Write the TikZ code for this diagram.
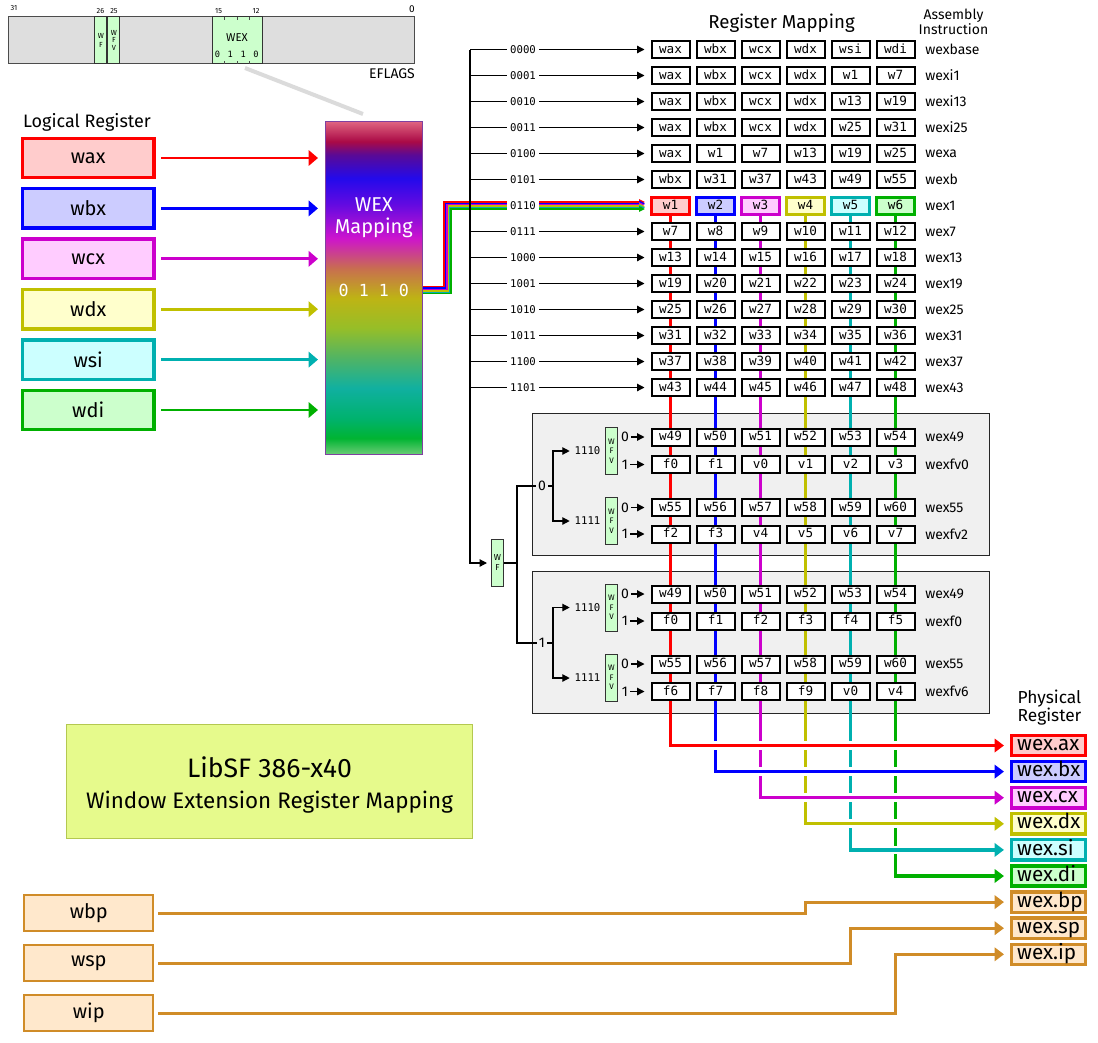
\documentclass[tikz,border=0pt]{standalone}
\usepackage{fontspec}
\setmainfont{Fira Sans}
\newfontfamily\monof{DejaVu Sans Mono}
\usetikzlibrary{arrows.meta,calc}
\pgfdeclarelayer{bg}
\pgfdeclarelayer{lines}
\pgfsetlayers{bg,lines,main}

\definecolor{cR}{RGB}{255,0,0}\definecolor{fR}{RGB}{255,204,204}
\definecolor{cB}{RGB}{0,0,255}\definecolor{fB}{RGB}{204,204,255}
\definecolor{cM}{RGB}{204,0,204}\definecolor{fM}{RGB}{255,204,255}
\definecolor{cY}{RGB}{192,192,0}\definecolor{fY}{RGB}{255,255,204}
\definecolor{cT}{RGB}{0,176,176}\definecolor{fT}{RGB}{204,255,255}
\definecolor{cG}{RGB}{0,176,0}\definecolor{fG}{RGB}{204,255,204}
\definecolor{cO}{RGB}{208,140,40}\definecolor{fO}{RGB}{255,232,204}
\definecolor{panelfill}{RGB}{240,240,240}
\definecolor{titlefill}{RGB}{230,250,140}
\definecolor{titledraw}{RGB}{180,200,80}
\definecolor{mapdraw}{RGB}{128,64,160}
\definecolor{g00}{RGB}{110,205,120}
\definecolor{g01}{RGB}{0,180,50}
\definecolor{g02}{RGB}{0,178,110}
\definecolor{g03}{RGB}{16,176,160}
\definecolor{g04}{RGB}{80,180,100}
\definecolor{g05}{RGB}{150,190,40}
\definecolor{g06}{RGB}{190,180,20}
\definecolor{g07}{RGB}{200,110,80}
\definecolor{g08}{RGB}{205,20,205}
\definecolor{g09}{RGB}{100,10,225}
\definecolor{g10}{RGB}{35,10,235}
\definecolor{g11}{RGB}{90,10,150}
\definecolor{g12}{RGB}{170,10,70}
\definecolor{g13}{RGB}{224,100,128}
\pgfdeclareverticalshading{wexgrad}{100bp}{color(0bp)=(g00); color(25bp)=(g00); color(27.5bp)=(g01); color(30.5bp)=(g02); color(35bp)=(g03); color(39.5bp)=(g04); color(44bp)=(g05); color(48.5bp)=(g06); color(53bp)=(g07); color(57.5bp)=(g08); color(62.5bp)=(g09); color(66.5bp)=(g10); color(70bp)=(g11); color(72bp)=(g12); color(75bp)=(g13); color(100bp)=(g13)}

\tikzset{
 cell/.style={draw=black, line width=1.5pt, fill=white, minimum width=28.5pt, minimum height=12.75pt, inner sep=0pt, text height=7pt, text depth=1.5pt, font=\monof\fontsize{9.5}{10}\selectfont},
 hcell/.style 2 args={cell, draw=#1, fill=#2, line width=2.25pt},
 rowlab/.style={fill=white, inner sep=2.5pt, font=\monof\fontsize{8}{9}\selectfont},
 asm/.style={anchor=west, inner sep=0pt, font=\fontsize{10.5}{12}\selectfont},
 tri/.style={-{Triangle[length=5.5pt,width=5.5pt]}},
 blk/.style={line width=0.9pt, black},
 lreg/.style 2 args={draw=#1, fill=#2, line width=2.5pt, minimum width=98.8pt, minimum height=29.5pt, inner sep=0pt, font=\fontsize{15}{18}\selectfont},
 oreg/.style={draw=cO, fill=fO, line width=1.5pt, minimum width=96.75pt, minimum height=27pt, inner sep=0pt, font=\fontsize{15}{18}\selectfont},
 preg/.style 2 args={draw=#1, fill=#2, line width=2.5pt, text width=47pt, align=left, inner xsep=4.15pt, inner ysep=0pt, minimum height=15.2pt, text height=11pt, text depth=3.3pt, font=\fontsize{15.5}{16}\selectfont},
 flagbox/.style={draw=black!80, fill=fG, line width=0.75pt, minimum width=9pt, inner sep=0pt, align=center},
 bigarrow/.style={line width=2.5pt, -{Triangle[length=7pt,width=10pt]}},
 lbl/.style={inner sep=0pt},
}

\begin{document}
\begin{tikzpicture}[x=0.75pt,y=-0.75pt]
\useasboundingbox (0,0) rectangle (1098,1042);

% ---------------- EFLAGS ----------------
\node[draw=black!70, fill=black!13, line width=0.75pt, minimum width=305pt, minimum height=35pt, inner sep=0pt] (eflags) at (211.5,40.3) {};
\node[flagbox, minimum height=35pt, font=\fontsize{5.5}{6.5}\selectfont] (ewf) at (100.8,40.3) {W\\F};
\node[flagbox, minimum height=35pt, font=\fontsize{5.5}{5.8}\selectfont] (ewfv) at (113.8,40.3) {W\\F\\V};
\node[flagbox, minimum width=37.5pt, minimum height=35pt] (ewex) at (237,40.3) {};
\node[lbl, font=\fontsize{8.5}{9}\selectfont] (ewext) at (237,37.5) {WEX};
\foreach \bb/\xx [count=\ci] in {0/217.5,1/230.3,1/243.2,0/256}
  \node[lbl, font=\monof\fontsize{6.5}{7}\selectfont] (ebit\ci) at (\xx,54) {\bb};
\foreach \xx in {224.4,237,249.7} {
  \draw[black!70, line width=0.5pt] (\xx,16.9) -- (\xx,19.8);
  \draw[black!70, line width=0.5pt] (\xx,61) -- (\xx,63.9);
}
\node[lbl, font=\fontsize{5.5}{6}\selectfont] (n31) at (14,8.5) {31};
\node[lbl, font=\fontsize{5.5}{6}\selectfont] (n26) at (100.5,10.8) {26};
\node[lbl, font=\fontsize{5.5}{6}\selectfont] (n25) at (114,10.8) {25};
\node[lbl, font=\fontsize{5.5}{6}\selectfont] (n15) at (218.5,10.8) {15};
\node[lbl, font=\fontsize{5.5}{6}\selectfont] (n12) at (256,10.8) {12};
\node[lbl, font=\fontsize{7.5}{8}\selectfont] (n0) at (412,9.5) {0};
\node[lbl, font=\fontsize{10.5}{12}\selectfont] (eflagslab) at (392,74) {EFLAGS};
\coordinate (gc1) at (245,68);
\coordinate (gc2) at (363,114);
\draw[black!14, line width=3pt] (gc1) -- (gc2);

% ---------------- Logical registers ----------------
\node[lbl, font=\fontsize{13.5}{15}\selectfont] (loghead) at (87,122) {Logical Register};
\foreach \nm/\cc/\cf [count=\ci from 0] in {wax/cR/fR, wbx/cB/fB, wcx/cM/fM, wdx/cY/fY, wsi/cT/fT, wdi/cG/fG}
  \node[lreg={\cc}{\cf}] (L\ci) at (88.2,{158+50.4*\ci}) {\nm};

% ---------------- WEX mapping ----------------
\node[draw=mapdraw, line width=0.75pt, shade, shading=wexgrad, minimum width=72.5pt, minimum height=250pt, inner sep=0pt] (wexmap) at (373.8,288.2) {};
\node[white, align=center, font=\fontsize{15}{16.5}\selectfont] (wexmaptxt) at (373.8,217.5) {WEX\\Mapping};
\node[white, font=\monof\fontsize{12.5}{13}\selectfont] (wexbits) at (373.8,290) {0 1 1 0};

\foreach \cc [count=\ci from 0] in {cR,cB,cM,cY,cT,cG}
  \draw[\cc, line width=2pt, -{Triangle[length=7pt,width=11.5pt]}, shorten <=4.2pt, shorten >=5.25pt] (L\ci.east) -- (L\ci.east -| wexmap.west);

% ---------------- headers ----------------
\node[lbl, font=\fontsize{14}{16}\selectfont] (rmhead) at (781.5,23.5) {Register Mapping};
\node[lbl, align=center, font=\fontsize{10.5}{9}\selectfont] (asmhead) at (953.5,21.5) {Assembly\\Instruction};

% ---------------- main rows ----------------
\foreach \rk/\lab/\va/\vb/\vc/\vd/\ve/\vf/\asmname in {
0/0000/wax/wbx/wcx/wdx/wsi/wdi/wexbase,
1/0001/wax/wbx/wcx/wdx/w1/w7/wexi1,
2/0010/wax/wbx/wcx/wdx/w13/w19/wexi13,
3/0011/wax/wbx/wcx/wdx/w25/w31/wexi25,
4/0100/wax/w1/w7/w13/w19/w25/wexa,
5/0101/wbx/w31/w37/w43/w49/w55/wexb,
7/0111/w7/w8/w9/w10/w11/w12/wex7,
8/1000/w13/w14/w15/w16/w17/w18/wex13,
9/1001/w19/w20/w21/w22/w23/w24/wex19,
10/1010/w25/w26/w27/w28/w29/w30/wex25,
11/1011/w31/w32/w33/w34/w35/w36/wex31,
12/1100/w37/w38/w39/w40/w41/w42/wex37,
13/1101/w43/w44/w45/w46/w47/w48/wex43}{
  \pgfmathsetmacro\yy{49.5+26*\rk}
  \foreach \cv [count=\cj] in {\va,\vb,\vc,\vd,\ve,\vf}
    \node[cell] (r\rk-\cj) at ({625.5+45*\cj},\yy) {\cv};
  \node[rowlab] (l\rk) at (523,\yy) {\lab};
  \node[asm] (a\rk) at (925,\yy) {\asmname};
}
\foreach \cv/\cc/\cf [count=\cj] in {w1/cR/fR, w2/cB/fB, w3/cM/fM, w4/cY/fY, w5/cT/fT, w6/cG/fG}
  \node[hcell={\cc}{\cf}] (h\cj) at ({625.5+45*\cj},205.5) {\cv};
\node[rowlab] (l6) at (523,205.5) {0110};
\node[asm] (a6) at (925,205.5) {wex1};

% ---------------- panels ----------------
\begin{pgfonlayer}{bg}
  \draw[black!85, line width=0.75pt, fill=panelfill] (532.3,413.3) rectangle (989.3,555);
  \draw[black!85, line width=0.75pt, fill=panelfill] (532.3,571.7) rectangle (989.3,713.3);
\end{pgfonlayer}

\foreach \pn/\yy/\bit/\va/\vb/\vc/\vd/\ve/\vf/\asmname in {
1/437/0/w49/w50/w51/w52/w53/w54/wex49,
2/464.5/1/f0/f1/v0/v1/v2/v3/wexfv0,
3/507.5/0/w55/w56/w57/w58/w59/w60/wex55,
4/534/1/f2/f3/v4/v5/v6/v7/wexfv2,
5/594/0/w49/w50/w51/w52/w53/w54/wex49,
6/621/1/f0/f1/f2/f3/f4/f5/wexf0,
7/664/0/w55/w56/w57/w58/w59/w60/wex55,
8/691.5/1/f6/f7/f8/f9/v0/v4/wexfv6}{
  \foreach \cv [count=\cj] in {\va,\vb,\vc,\vd,\ve,\vf}
    \node[cell] (p\pn-\cj) at ({625.5+45*\cj},\yy) {\cv};
  \node[inner sep=1.5pt, font=\fontsize{10.5}{12}\selectfont] (z\pn) at (625,\yy) {\bit};
  \node[asm] (q\pn) at (925,\yy) {\asmname};
  \draw[blk, tri, shorten >=4.5pt] (z\pn.east) -- (p\pn-1.west);
}
\foreach \yy [count=\m] in {451,521,607.5,677.5}
  \node[flagbox, minimum height=35.25pt, font=\fontsize{6}{7}\selectfont] (wfv\m) at (611.5,\yy) {W\\F\\V};
\node[rowlab, fill=none] (s1) at (587.5,451) {1110};
\node[rowlab, fill=none] (s2) at (587.5,521) {1111};
\node[rowlab, fill=none] (s3) at (587.5,607.5) {1110};
\node[rowlab, fill=none] (s4) at (587.5,678) {1111};
\node[inner sep=1.5pt, font=\fontsize{10.5}{12}\selectfont] (b0) at (542,486) {0};
\node[inner sep=1.5pt, font=\fontsize{10.5}{12}\selectfont] (b1) at (542,643) {1};
\node[flagbox, minimum height=35.25pt, font=\fontsize{6.5}{7.5}\selectfont] (wf) at (497.5,563) {W\\F};
\coordinate (wfj) at (517,563);
\coordinate (bxj) at (553,563);
\draw[blk] (wf.east) -- (wfj);
\draw[blk] (b0.west) -| (wfj);
\draw[blk] (b1.west) -| (wfj);
\draw[blk] (b0.east) -- (b0.east -| bxj);
\draw[blk] (b1.east) -- (b1.east -| bxj);
\draw[blk, tri, shorten >=1pt] (b0.east -| bxj) |- (s1.west);
\draw[blk, tri, shorten >=1pt] (b0.east -| bxj) |- (s2.west);
\draw[blk, tri, shorten >=1pt] (b1.east -| bxj) |- (s3.west);
\draw[blk, tri, shorten >=1pt] (b1.east -| bxj) |- (s4.west);

% ---------------- physical registers ----------------
\node[lbl, align=center, font=\fontsize{13}{14}\selectfont] (physhead) at (1049.5,707.5) {Physical\\Register};
\foreach \nm/\cc/\cf [count=\ci] in {wex.ax/cR/fR, wex.bx/cB/fB, wex.cx/cM/fM, wex.dx/cY/fY, wex.si/cT/fT, wex.di/cG/fG, wex.bp/cO/fO, wex.sp/cO/fO, wex.ip/cO/fO}
  \node[preg={\cc}{\cf}] (P\ci) at (1048.5,{745.5+26.1*(\ci-1)}) {\nm};

% ---------------- orange registers ----------------
\node[oreg] (O1) at (88.8,913) {wbp};
\node[oreg] (O2) at (88.8,963) {wsp};
\node[oreg] (O3) at (88.8,1013) {wip};

% ---------------- title ----------------
\node[draw=titledraw, fill=titlefill, line width=0.75pt, minimum width=305pt, minimum height=85.5pt, inner sep=0pt] (title) at (269.5,781) {};
\node[lbl, font=\fontsize{20}{22}\selectfont] (title1) at (269.5,767) {LibSF 386-x40};
\node[lbl, font=\fontsize{16.8}{18}\selectfont] (title2) at (269.5,802) {Window Extension Register Mapping};

% ---------------- connector lines ----------------
\coordinate (trunk) at (470,49.5);
\begin{pgfonlayer}{lines}
  \foreach \cc [count=\ci from 0] in {cR,cB,cM,cY,cT,cG} {
    \pgfmathsetmacro\dd{1.4*\ci}
    \draw[\cc, line width=1.1pt, -{Triangle[length=4.5pt,width=4pt]}]
      ($(wexmap.east)+(0,\dd-1.5)$) -- ++({21.5+\dd},0) |- ($(h1.west)+(-5,\dd-3.5)$);
  }
  \draw[blk, tri, shorten >=3pt] (trunk) |- (wf.west);
  \foreach \cj/\cc in {6/cG,5/cT,4/cY,3/cM,2/cB,1/cR} {
    \draw[white, line width=6.5pt] (h\cj.south |- P\cj.west) -- (P\cj.west);
    \draw[\cc, bigarrow, shorten >=4.5pt] (h\cj.south) |- (P\cj.west);
  }
  \draw[cO, bigarrow, line width=2.25pt, shorten <=3pt, shorten >=4.5pt] (O1.east) -- (O1.east -| h4.south) |- (P7.west);
  \draw[cO, bigarrow, line width=2.25pt, shorten <=3pt, shorten >=4.5pt] (O2.east) -- (O2.east -| h5.south) |- (P8.west);
  \draw[cO, bigarrow, line width=2.25pt, shorten <=3pt, shorten >=4.5pt] (O3.east) -- (O3.east -| h6.south) |- (P9.west);
\end{pgfonlayer}
\foreach \rk in {0,1,2,3,4,5,7,8,9,10,11,12,13} {
  \draw[blk] (l\rk.west -| trunk) -- (l\rk.west);
  \draw[blk, tri, shorten >=4.5pt] (l\rk.east) -- (r\rk-1.west);
}
\end{tikzpicture}
\end{document}
